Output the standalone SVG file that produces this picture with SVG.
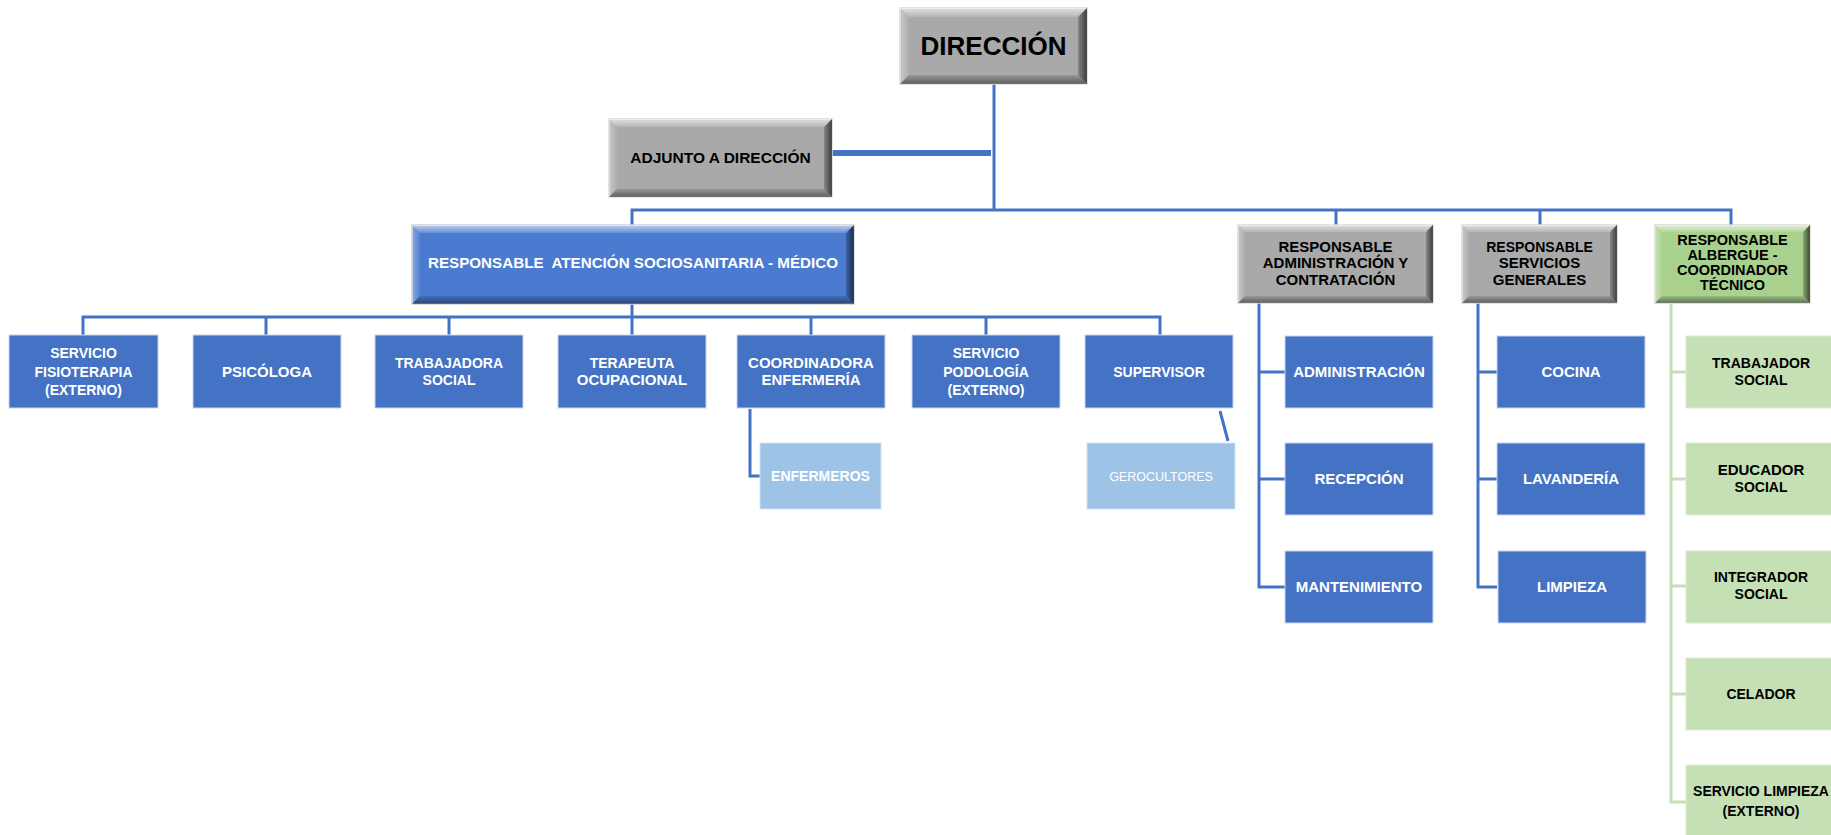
<svg xmlns="http://www.w3.org/2000/svg" width="1831" height="835" viewBox="0 0 1831 835">
<defs>
<linearGradient id="gTop" x1="0" y1="0" x2="0" y2="1"><stop offset="0" stop-color="#fff" stop-opacity="0.65"/><stop offset="1" stop-color="#fff" stop-opacity="0.15"/></linearGradient>
<linearGradient id="gLeft" x1="0" y1="0" x2="1" y2="0"><stop offset="0" stop-color="#fff" stop-opacity="0.35"/><stop offset="1" stop-color="#fff" stop-opacity="0.05"/></linearGradient>
<linearGradient id="gBot" x1="0" y1="0" x2="0" y2="1"><stop offset="0" stop-color="#000" stop-opacity="0.1"/><stop offset="1" stop-color="#000" stop-opacity="0.45"/></linearGradient>
<linearGradient id="gRight" x1="0" y1="0" x2="1" y2="0"><stop offset="0" stop-color="#000" stop-opacity="0.2"/><stop offset="1" stop-color="#000" stop-opacity="0.65"/></linearGradient>
</defs>
<style>
.conn{stroke:#4472C4;stroke-width:3;fill:none}
.thick{stroke:#4472C4;stroke-width:6;fill:none}
.connG{stroke:#C5E0B4;stroke-width:3;fill:none}
.box{fill:#4472C4;stroke:#c9d6ee;stroke-width:1}
.lbox{fill:#9DC3E6;stroke:#d3e4f4;stroke-width:1}
.gbox{fill:#C5E0B4;stroke:#dcecd1;stroke-width:1}
.gray{fill:#A9A9A9;stroke:#d8d8d8;stroke-width:1.5}
.blue{fill:#4A7BD0;stroke:#d0d0d0;stroke-width:1.5}
.green{fill:#A9D18E;stroke:#d8d8d8;stroke-width:1.5}
.bt{fill:url(#gTop)}.bl{fill:url(#gLeft)}.bb{fill:url(#gBot)}.br{fill:url(#gRight)}
text{font-family:"Liberation Sans",Arial,sans-serif;font-weight:bold;font-size:14px;text-anchor:middle}
.w{fill:#fff}.k{fill:#000}
.reg{font-weight:normal;font-size:12.5px}
.m{font-size:15px}
</style>

<g id="connectors">
<line class="conn" x1="994" y1="84" x2="994" y2="210"/>
<line class="thick" x1="832" y1="153" x2="991" y2="153"/>
<polyline class="conn" points="632,225 632,210 1731,210 1731,225"/>
<line class="conn" x1="1336" y1="210" x2="1336" y2="225"/>
<line class="conn" x1="1540" y1="210" x2="1540" y2="225"/>
<line class="conn" x1="632" y1="304" x2="632" y2="317"/>
<polyline class="conn" points="83,335 83,317 1160,317 1160,335"/>
<line class="conn" x1="266" y1="317" x2="266" y2="335"/>
<line class="conn" x1="449" y1="317" x2="449" y2="335"/>
<line class="conn" x1="632" y1="317" x2="632" y2="335"/>
<line class="conn" x1="811" y1="317" x2="811" y2="335"/>
<line class="conn" x1="986" y1="317" x2="986" y2="335"/>
<polyline class="conn" points="750,409 750,476 760,476"/>
<line class="conn" x1="1220" y1="411" x2="1228" y2="441"/>
<polyline class="conn" points="1259,303 1259,587 1285,587"/>
<line class="conn" x1="1259" y1="372" x2="1285" y2="372"/>
<line class="conn" x1="1259" y1="479" x2="1285" y2="479"/>
<polyline class="conn" points="1478,303 1478,587 1497,587"/>
<line class="conn" x1="1478" y1="372" x2="1497" y2="372"/>
<line class="conn" x1="1478" y1="479" x2="1497" y2="479"/>
<polyline class="connG" points="1671,303 1671,802 1686,802"/>
<line class="connG" x1="1671" y1="372" x2="1686" y2="372"/>
<line class="connG" x1="1671" y1="479" x2="1686" y2="479"/>
<line class="connG" x1="1671" y1="586" x2="1686" y2="586"/>
<line class="connG" x1="1671" y1="694" x2="1686" y2="694"/>
</g>

<g id="direccion">
<rect class="gray" x="900" y="8" width="187" height="76"/>
<polygon class="bt" points="900,8 1087,8 1078,17 909,17"/>
<polygon class="bl" points="900,8 909,17 909,75 900,84"/>
<polygon class="bb" points="900,84 909,75 1078,75 1087,84"/>
<polygon class="br" points="1087,8 1087,84 1078,75 1078,17"/>
<text class="k" x="993.5" y="55" style="font-size:26px">DIRECCIÓN</text>
</g>

<g id="adjunto">
<rect class="gray" x="609" y="119" width="223" height="78"/>
<polygon class="bt" points="609,119 832,119 824,127 617,127"/>
<polygon class="bl" points="609,119 617,127 617,189 609,197"/>
<polygon class="bb" points="609,197 617,189 824,189 832,197"/>
<polygon class="br" points="832,119 832,197 824,189 824,127"/>
<text class="k" x="720.5" y="163" style="font-size:15.5px">ADJUNTO A DIRECCIÓN</text>
</g>

<g id="medico">
<rect class="blue" x="412" y="225" width="442" height="79"/>
<polygon class="bt" points="412,225 854,225 846,233 420,233"/>
<polygon class="bl" points="412,225 420,233 420,296 412,304"/>
<polygon class="bb" points="412,304 420,296 846,296 854,304"/>
<polygon class="br" points="854,225 854,304 846,296 846,233"/>
<text class="w" x="633" y="268" xml:space="preserve" style="font-size:15.2px;white-space:pre">RESPONSABLE  ATENCIÓN SOCIOSANITARIA - MÉDICO</text>
</g>

<g id="resp-admin">
<rect class="gray" x="1238" y="225" width="195" height="78"/>
<polygon class="bt" points="1238,225 1433,225 1426,232 1245,232"/>
<polygon class="bl" points="1238,225 1245,232 1245,296 1238,303"/>
<polygon class="bb" points="1238,303 1245,296 1426,296 1433,303"/>
<polygon class="br" points="1433,225 1433,303 1426,296 1426,232"/>
<text class="k m" x="1335.5" y="252">RESPONSABLE</text>
<text class="k m" x="1335.5" y="268">ADMINISTRACIÓN Y</text>
<text class="k m" x="1335.5" y="285">CONTRATACIÓN</text>
</g>

<g id="resp-servicios">
<rect class="gray" x="1462" y="225" width="155" height="78"/>
<polygon class="bt" points="1462,225 1617,225 1610,232 1469,232"/>
<polygon class="bl" points="1462,225 1469,232 1469,296 1462,303"/>
<polygon class="bb" points="1462,303 1469,296 1610,296 1617,303"/>
<polygon class="br" points="1617,225 1617,303 1610,296 1610,232"/>
<text class="k" x="1539.5" y="252">RESPONSABLE</text>
<text class="k m" x="1539.5" y="268">SERVICIOS</text>
<text class="k m" x="1539.5" y="285">GENERALES</text>
</g>

<g id="resp-albergue">
<rect class="green" x="1655" y="225" width="155" height="78"/>
<polygon class="bt" points="1655,225 1810,225 1803,232 1662,232"/>
<polygon class="bl" points="1655,225 1662,232 1662,296 1655,303"/>
<polygon class="bb" points="1655,303 1662,296 1803,296 1810,303"/>
<polygon class="br" points="1810,225 1810,303 1803,296 1803,232"/>
<text class="k" x="1732.5" y="245" style="font-size:14.5px">RESPONSABLE</text>
<text class="k" x="1732.5" y="260" style="font-size:14.5px">ALBERGUE -</text>
<text class="k" x="1732.5" y="275" style="font-size:14.5px">COORDINADOR</text>
<text class="k" x="1732.5" y="290" style="font-size:14.5px">TÉCNICO</text>
</g>

<g id="fisioterapia">
<rect class="box" x="9" y="335" width="149" height="73"/>
<text class="w" x="83.5" y="358">SERVICIO</text>
<text class="w" x="83.5" y="377">FISIOTERAPIA</text>
<text class="w" x="83.5" y="395">(EXTERNO)</text>
</g>
<g id="psicologa">
<rect class="box" x="193" y="335" width="148" height="73"/>
<text class="w m" x="267" y="377">PSICÓLOGA</text>
</g>
<g id="trabajadora-social">
<rect class="box" x="375" y="335" width="148" height="73"/>
<text class="w" x="449" y="368">TRABAJADORA</text>
<text class="w" x="449" y="385">SOCIAL</text>
</g>
<g id="terapeuta">
<rect class="box" x="558" y="335" width="148" height="73"/>
<text class="w" x="632" y="368">TERAPEUTA</text>
<text class="w m" x="632" y="385">OCUPACIONAL</text>
</g>
<g id="coordinadora">
<rect class="box" x="737" y="335" width="148" height="73"/>
<text class="w m" x="811" y="368">COORDINADORA</text>
<text class="w m" x="811" y="385">ENFERMERÍA</text>
</g>
<g id="podologia">
<rect class="box" x="912" y="335" width="148" height="73"/>
<text class="w" x="986" y="358">SERVICIO</text>
<text class="w" x="986" y="377">PODOLOGÍA</text>
<text class="w" x="986" y="395">(EXTERNO)</text>
</g>
<g id="supervisor">
<rect class="box" x="1085" y="335" width="148" height="73"/>
<text class="w" x="1159" y="377">SUPERVISOR</text>
</g>
<g id="enfermeros">
<rect class="lbox" x="760" y="443" width="121" height="66"/>
<text class="w" x="820.5" y="481">ENFERMEROS</text>
</g>
<g id="gerocultores">
<rect class="lbox" x="1087" y="443" width="148" height="66"/>
<text class="w reg" x="1161" y="481">GEROCULTORES</text>
</g>

<g id="administracion">
<rect class="box" x="1285" y="336" width="148" height="72"/>
<text class="w m" x="1359" y="377">ADMINISTRACIÓN</text>
</g>
<g id="recepcion">
<rect class="box" x="1285" y="443" width="148" height="72"/>
<text class="w m" x="1359" y="484">RECEPCIÓN</text>
</g>
<g id="mantenimiento">
<rect class="box" x="1285" y="551" width="148" height="72"/>
<text class="w m" x="1359" y="592">MANTENIMIENTO</text>
</g>
<g id="cocina">
<rect class="box" x="1497" y="336" width="148" height="72"/>
<text class="w m" x="1571" y="377">COCINA</text>
</g>
<g id="lavanderia">
<rect class="box" x="1497" y="443" width="148" height="72"/>
<text class="w m" x="1571" y="484">LAVANDERÍA</text>
</g>
<g id="limpieza">
<rect class="box" x="1498" y="551" width="148" height="72"/>
<text class="w m" x="1572" y="592">LIMPIEZA</text>
</g>

<g id="trabajador-social">
<rect class="gbox" x="1686" y="336" width="150" height="72"/>
<text class="k" x="1761" y="368">TRABAJADOR</text>
<text class="k" x="1761" y="385">SOCIAL</text>
</g>
<g id="educador-social">
<rect class="gbox" x="1686" y="443" width="150" height="72"/>
<text class="k m" x="1761" y="475">EDUCADOR</text>
<text class="k" x="1761" y="492">SOCIAL</text>
</g>
<g id="integrador-social">
<rect class="gbox" x="1686" y="551" width="150" height="72"/>
<text class="k" x="1761" y="582">INTEGRADOR</text>
<text class="k" x="1761" y="599">SOCIAL</text>
</g>
<g id="celador">
<rect class="gbox" x="1686" y="658" width="150" height="72"/>
<text class="k" x="1761" y="699">CELADOR</text>
</g>
<g id="servicio-limpieza">
<rect class="gbox" x="1686" y="765" width="150" height="72"/>
<text class="k" x="1761" y="796">SERVICIO LIMPIEZA</text>
<text class="k" x="1761" y="816">(EXTERNO)</text>
</g>
</svg>
